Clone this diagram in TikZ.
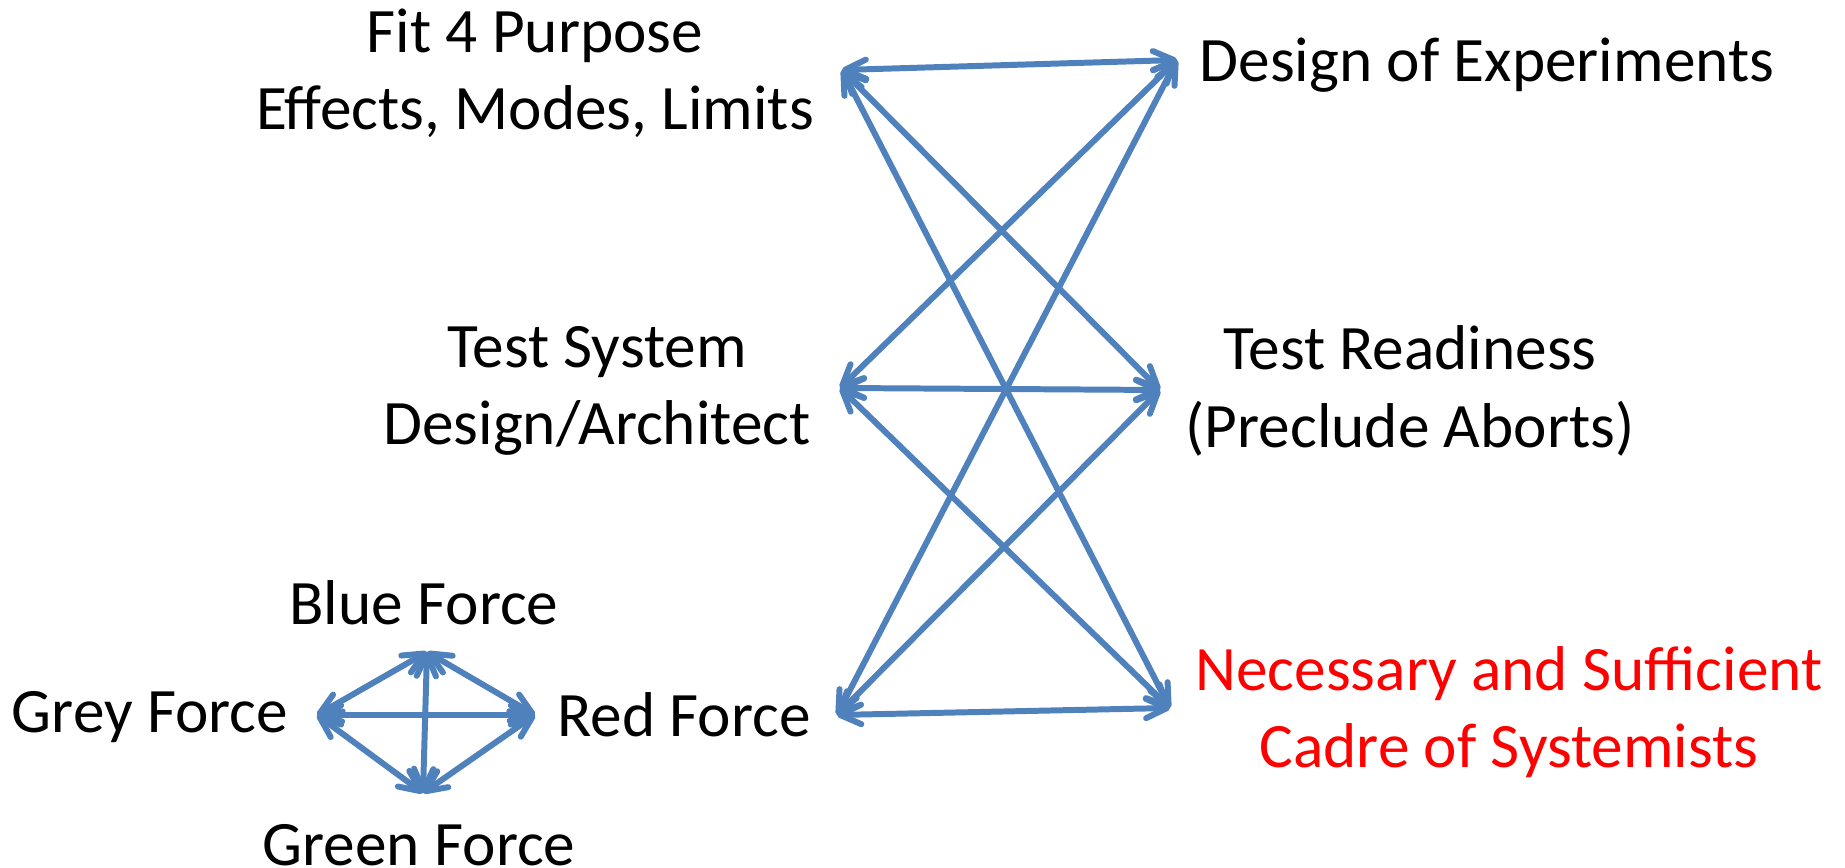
\documentclass[tikz,border=0pt]{standalone}
\usepackage{fontspec}
\setmainfont{Carlito}
\usetikzlibrary{arrows.meta}
\definecolor{arblue}{RGB}{79,129,189}

\begin{document}
\begin{tikzpicture}[x=0.01cm, y=-0.01cm, lb/.style={align=center, font=\fontsize{18}{22}\selectfont, inner sep=0pt}, ar/.style={draw=arblue, line width=1.7pt, {Straight Barb[length=6pt,width=5.5pt,round]}-{Straight Barb[length=6pt,width=5.5pt,round]}}]
		\path[use as bounding box, fill=white] (0,0) rectangle (1845,868);

		% big graph labels
		\node[lb] (fit) at (535,73) {Fit 4 Purpose\\Effects, Modes, Limits};
		\node[lb] (doe) at (1487,65) {Design of Experiments};
		\node[lb] (tsd) at (597,391) {Test System\\Design/Architect};
		\node[lb] (tr) at (1410,391) {Test Readiness\\(Preclude Aborts)};
		\node[lb, text=red] (nsc) at (1509,712) {Necessary and Sufficient\\Cadre of Systemists};

		% force labels
		\node[lb] (blue) at (424,603) {Blue Force};
		\node[lb] (grey) at (150,717) {Grey Force};
		\node[lb] (red) at (684,715) {Red Force};
		\node[lb] (green) at (419,845) {Green Force};

		% arrow ends
		\coordinate (fitP) at (842,70);
		\coordinate (doeP) at (1177,60);
		\coordinate (tsdP) at (840,388);
		\coordinate (trP) at (1160,390);
		\coordinate (redP) at (837,715);
		\coordinate (nscP) at (1170,708);
		\coordinate (blueP) at (427,652);
		\coordinate (greyP) at (317,715);
		\coordinate (redQ) at (535,715);
		\coordinate (greenP) at (423,793);

		\path (fitP) edge[ar] (doeP);
		\path (fitP) edge[ar] (trP);
		\path (fitP) edge[ar] (nscP);
		\path (tsdP) edge[ar] (doeP);
		\path (tsdP) edge[ar] (trP);
		\path (tsdP) edge[ar] (nscP);
		\path (redP) edge[ar] (doeP);
		\path (redP) edge[ar] (trP);
		\path (redP) edge[ar] (nscP);

		\path (blueP) edge[ar] (greyP);
		\path (blueP) edge[ar] (redQ);
		\path (blueP) edge[ar] (greenP);
		\path (greyP) edge[ar] (redQ);
		\path (greyP) edge[ar] (greenP);
		\path (redQ) edge[ar] (greenP);
	\end{tikzpicture}
\end{document}
